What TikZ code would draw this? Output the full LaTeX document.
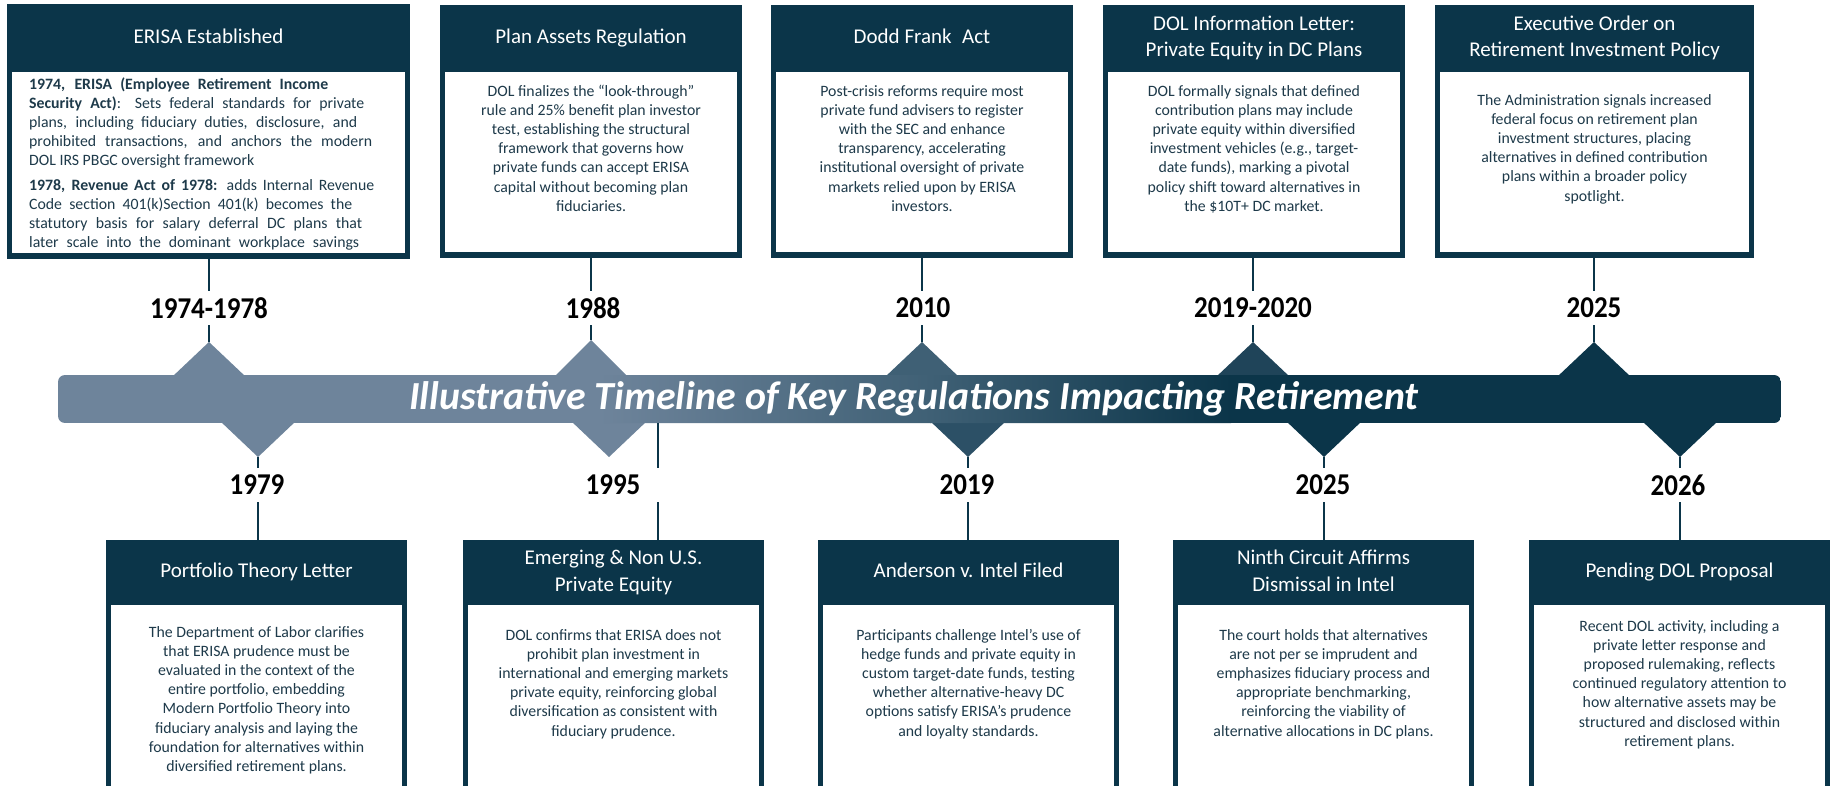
\documentclass[tikz,border=0pt]{standalone}
\usepackage{fontspec}
\usepackage{graphicx}
\setmainfont{Carlito}
\usetikzlibrary{calc}

\definecolor{navy}{RGB}{11,53,73}
\definecolor{slate}{RGB}{110,132,155}
\definecolor{midslate}{RGB}{63,96,117}
\definecolor{deepslate}{RGB}{44,80,102}
\definecolor{darkslate}{RGB}{31,68,89}
\definecolor{bodyink}{RGB}{30,58,74}

\tikzset{
  x=1pt, y=-1pt,
  frame/.style={fill=navy, draw=none, inner sep=0pt, outer sep=0pt, anchor=north west},
  headtitle/.style={text=white, font=\fontsize{21}{26.5}\selectfont, align=center, inner sep=0pt},
  bodytext/.style={text=bodyink, font=\fontsize{15.8}{19.1}\selectfont, align=center, inner sep=0pt, anchor=north},
  datelabel/.style={font=\fontsize{27}{30}\selectfont\bfseries, inner sep=0pt, minimum height=34pt, text=black},
  link/.style={draw=navy, line width=1.8pt},
}

% event card: name, left x, top y, width, height, header height
\newcommand{\evbox}[6]{%
  \node[frame, minimum width=#4pt, minimum height=#5pt] (#1) at (#2,#3) {};
  \fill[white] ($(#1.north west)+(5,#6)$) rectangle ($(#1.south east)+(-5,-6)$);
}
% one stretched line of the first card
\newcommand{\jl}[2]{\makebox[#1pt][s]{#2}}
\newcommand{\yr}[1]{\scalebox{1}[1.12]{#1}}

\begin{document}
\begin{tikzpicture}
\fill[white] (0,0) rectangle (1834,786);
\useasboundingbox (0,0) rectangle (1834,786);
\clip (0,0) rectangle (1834,786);

% ---------- timeline markers (behind the bar) ----------
\fill[slate]     (172,377) -- (209,342) -- (246,377) -- cycle;
\fill[slate]     (554,377) -- (591,340) -- (628,377) -- cycle;
\fill[midslate]  (885,377) -- (922,342) -- (959,377) -- cycle;
\fill[darkslate] (1216,377) -- (1253,342) -- (1290,377) -- cycle;
\fill[navy]      (1557,377) -- (1594,342) -- (1631,377) -- cycle;

\fill[slate]     (220,421) -- (258,457) -- (296,421) -- cycle;
\fill[slate]     (571,421) -- (609,457) -- (647,421) -- cycle;
\fill[deepslate] (930,421) -- (968,457) -- (1006,421) -- cycle;
\fill[navy]      (1286,421) -- (1324,457) -- (1362,421) -- cycle;
\fill[navy]      (1642,421) -- (1680,457) -- (1718,421) -- cycle;

% ---------- timeline bar ----------
\begin{scope}
  \clip[rounded corners=7pt] (58,375) rectangle (1781,423);
  \fill[slate] (58,375) rectangle (600,423);
  \shade[left color=slate, right color=midslate] (599,375) rectangle (931,423);
  \shade[left color=midslate, right color=navy] (930,375) rectangle (1231,423);
  \fill[navy] (1230,375) rectangle (1781,423);
\end{scope}
\node[text=white, font=\fontsize{39.8}{42}\selectfont\bfseries\itshape, inner sep=0pt, anchor=base]
  (bartitle) at (914,409) {Illustrative Timeline of Key Regulations Impacting Retirement};

% apex points of the markers
\coordinate (a1) at (209,342);
\coordinate (a2) at (591,340);
\coordinate (a3) at (922,342);
\coordinate (a4) at (1253,342);
\coordinate (a5) at (1594,342);
\coordinate (c1) at (258,457);
\coordinate (c2) at (609,457);
\coordinate (c3) at (968,457);
\coordinate (c4) at (1324,457);
\coordinate (c5) at (1680,457);
\coordinate (k2) at (658,423);

% ---------- upper cards ----------
\evbox{t1}{7}{4}{403}{255}{68}
\evbox{t2}{440}{5}{302}{253}{67}
\evbox{t3}{771}{5}{302}{253}{67}
\evbox{t4}{1103}{5}{302}{253}{67}
\evbox{t5}{1435}{5}{319}{253}{67}

\node[headtitle] (t1h) at ($(t1.north)+(0,34)$) {\strut ERISA Established\strut};
\node[headtitle] (t2h) at ($(t2.north)+(0,33)$) {\strut Plan Assets Regulation\strut};
\node[headtitle] (t3h) at ($(t3.north)+(0,33)$) {\strut Dodd Frank\enspace Act\strut};
\node[headtitle] (t4h) at ($(t4.north)+(0,33)$) {\strut DOL Information Letter:\\Private Equity in DC Plans\strut};
\node[headtitle] (t5h) at ($(t5.north)+(0,33)$) {\strut Executive Order on\\Retirement Investment Policy\strut};

\node[text=bodyink, font=\fontsize{15.8}{19.1}\selectfont, align=left, inner sep=0pt, anchor=north west]
  (t1b) at (29,76) {\strut
  \jl{299}{\bfseries 1974, ERISA (Employee Retirement Income}\\
  \jl{335}{\textbf{Security Act)}: Sets federal standards for private}\\
  \jl{328}{plans, including fiduciary duties, disclosure, and}\\
  \jl{343}{prohibited transactions, and anchors the modern}\\
  DOL IRS PBGC oversight framework\\[5pt]
  \jl{345}{\textbf{1978, Revenue Act of 1978:} adds Internal Revenue}\\
  \jl{323}{Code section 401(k)Section 401(k) becomes the}\\
  \jl{333}{statutory basis for salary deferral DC plans that}\\
  \jl{330}{later scale into the dominant workplace savings}};

\node[bodytext] (t2b) at ($(t2.north)+(0,78)$) {\strut DOL finalizes the “look-through”\\
  rule and 25\% benefit plan investor\\
  test, establishing the structural\\
  framework that governs how\\
  private funds can accept ERISA\\
  capital without becoming plan\\
  fiduciaries.};
\node[bodytext] (t3b) at ($(t3.north)+(0,78)$) {\strut Post-crisis reforms require most\\
  private fund advisers to register\\
  with the SEC and enhance\\
  transparency, accelerating\\
  institutional oversight of private\\
  markets relied upon by ERISA\\
  investors.};
\node[bodytext] (t4b) at ($(t4.north)+(0,78)$) {\strut DOL formally signals that defined\\
  contribution plans may include\\
  private equity within diversified\\
  investment vehicles (e.g., target-\\
  date funds), marking a pivotal\\
  policy shift toward alternatives in\\
  the \$10T+ DC market.};
\node[bodytext] (t5b) at ($(t5.north)+(0,87)$) {\strut The Administration signals increased\\
  federal focus on retirement plan\\
  investment structures, placing\\
  alternatives in defined contribution\\
  plans within a broader policy\\
  spotlight.};

% ---------- lower cards ----------
\evbox{b1}{106}{540}{301}{270}{65}
\evbox{b2}{463}{540}{301}{270}{65}
\evbox{b3}{818}{540}{301}{270}{65}
\evbox{b4}{1173}{540}{301}{270}{65}
\evbox{b5}{1529}{540}{301}{270}{65}

\node[headtitle] (b1h) at ($(b1.north)+(0,32.5)$) {\strut Portfolio Theory Letter\strut};
\node[headtitle] (b2h) at ($(b2.north)+(0,32.5)$) {\strut Emerging \& Non U.S.\\Private Equity\strut};
\node[headtitle] (b3h) at ($(b3.north)+(0,32.5)$) {\strut Anderson v. Intel Filed\strut};
\node[headtitle] (b4h) at ($(b4.north)+(0,32.5)$) {\strut Ninth Circuit Affirms\\Dismissal in Intel\strut};
\node[headtitle] (b5h) at ($(b5.north)+(0,32.5)$) {\strut Pending DOL Proposal\strut};

\node[bodytext] (b1b) at ($(b1.north)+(0,84)$) {\strut The Department of Labor clarifies\\
  that ERISA prudence must be\\
  evaluated in the context of the\\
  entire portfolio, embedding\\
  Modern Portfolio Theory into\\
  fiduciary analysis and laying the\\
  foundation for alternatives within\\
  diversified retirement plans.};
\node[bodytext] (b2b) at ($(b2.north)+(0,87)$) {\strut DOL confirms that ERISA does not\\
  prohibit plan investment in\\
  international and emerging markets\\
  private equity, reinforcing global\\
  diversification as consistent with\\
  fiduciary prudence.};
\node[bodytext] (b3b) at ($(b3.north)+(0,87)$) {\strut Participants challenge Intel’s use of\\
  hedge funds and private equity in\\
  custom target-date funds, testing\\
  whether alternative-heavy DC\\
  options satisfy ERISA’s prudence\\
  and loyalty standards.};
\node[bodytext] (b4b) at ($(b4.north)+(0,87)$) {\strut The court holds that alternatives\\
  are not per se imprudent and\\
  emphasizes fiduciary process and\\
  appropriate benchmarking,\\
  reinforcing the viability of\\
  alternative allocations in DC plans.};
\node[bodytext] (b5b) at ($(b5.north)+(0,78)$) {\strut Recent DOL activity, including a\\
  private letter response and\\
  proposed rulemaking, reflects\\
  continued regulatory attention to\\
  how alternative assets may be\\
  structured and disclosed within\\
  retirement plans.};

% ---------- year labels ----------
\node[datelabel] (d1) at (209,308) {\yr{1974-1978}};
\node[datelabel] (d2) at (593,308) {\yr{1988}};
\node[datelabel] (d3) at (923,308) {\yr{2010}};
\node[datelabel] (d4) at (1253,308) {\yr{2019-2020}};
\node[datelabel] (d5) at (1594,308) {\yr{2025}};
\node[datelabel] (e1) at (257,485) {\yr{1979}};
\node[datelabel] (e2) at (613,485) {\yr{1995}};
\node[datelabel] (e3) at (967,485) {\yr{2019}};
\node[datelabel] (e4) at (1323,485) {\yr{2025}};
\node[datelabel] (e5) at (1678,485) {\yr{2026}};

% ---------- connectors ----------
\foreach \i in {1,...,5}{
  \draw[link] (a\i |- t\i.south) -- (a\i |- d\i.north);
  \draw[link] (a\i |- d\i.south) -- (a\i);
}
\foreach \i in {1,3,4,5}{
  \draw[link] (c\i) -- (c\i |- e\i.north);
  \draw[link] (c\i |- e\i.south) -- (c\i |- b\i.north);
}
\draw[link] (k2) -- (k2 |- e2.north);
\draw[link] (k2 |- e2.south) -- (k2 |- b2.north);
\end{tikzpicture}
\end{document}
